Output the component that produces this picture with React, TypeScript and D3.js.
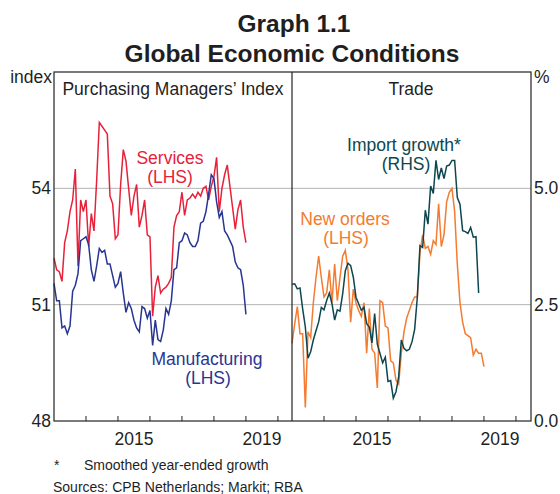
import * as d3 from "d3";

// monthly, Jan 2013 onwards
const services = [
  52.2, 51.9, 51.85, 51.6, 52.6, 52.9, 53.4, 53.7, 54.5, 52.0, 53.7, 53.4,
  53.7, 52.5, 53.35, 52.9, 54.2, 55.7, 55.6, 55.5, 55.4, 53.8, 53.6, 52.7,
  52.8, 54.1, 55.0, 54.7, 54.0, 53.3, 53.8, 54.1, 53.0, 53.3, 53.7, 52.8,
  52.75, 50.7, 51.45, 51.75, 51.3, 51.4, 51.45, 51.55, 51.7, 53.0, 53.3, 53.4,
  53.9, 53.3, 53.7, 53.75, 53.85, 53.75, 53.9, 53.8, 54.0, 54.05, 53.7, 54.05,
  54.3, 54.8, 53.4, 54.0, 54.35, 54.6, 54.05, 53.5, 52.95, 53.45, 53.7, 53.0,
  52.6,
];
const manufacturing = [
  51.55, 51.1, 51.1, 50.4, 50.45, 50.25, 50.45, 51.35, 51.5, 51.8, 52.65, 52.7,
  52.75, 52.55, 51.9, 51.6, 52.0, 52.45, 52.35, 52.4, 52.05, 52.05, 51.75, 51.45,
  51.55, 51.85, 51.3, 50.8, 51.05, 50.9, 50.6, 50.4, 50.3, 50.95, 50.9, 50.65,
  50.85, 49.95, 50.6, 50.1, 50.05, 50.35, 50.9, 50.75, 51.1, 51.9, 51.95, 52.6,
  52.65, 52.85, 52.8, 52.6, 52.5, 52.5, 52.65, 53.1, 53.15, 53.4, 53.85, 54.35,
  54.25, 53.65, 53.25, 53.4, 52.9, 52.8, 52.65, 52.5, 52.1, 51.95, 51.9, 51.5,
  50.75,
];
const newOrders = [
  50.0, 50.5, 50.95, 50.25, 50.25, 48.35, 50.3, 50.15, 51.05, 51.7, 52.25, 51.7,
  51.2, 51.3, 51.9, 51.05, 52.05, 51.1, 51.7, 52.25, 52.4, 51.9, 50.55, 51.4,
  51.05, 50.85, 50.7, 51.05, 49.75, 50.9, 49.85, 49.75, 48.85, 51.1, 51.05, 50.45,
  50.4, 49.55, 49.5, 49.05, 48.95, 49.75, 50.3, 50.65, 50.85, 51.05, 51.2, 51.2,
  52.35, 52.8, 52.45, 52.5, 52.3, 52.65, 52.55, 53.6, 52.5, 52.8, 53.65, 53.9,
  54.0, 53.4, 52.05, 51.05, 50.55, 50.25, 50.2, 50.15, 49.7, 49.85, 49.75, 49.75,
  49.4,
];
const importGrowth = [
  2.94, 2.95, 2.84, 2.86, 2.41, 2.02, 1.35, 1.49, 1.74, 1.94, 2.13, 2.44,
  2.39, 2.59, 2.75, 2.52, 2.17, 2.39, 2.36, 2.73, 3.23, 3.39, 3.34, 3.09,
  2.66, 2.52, 2.38, 2.44, 2.09, 2.02, 1.68, 2.31, 1.65, 1.45, 1.25, 1.37,
  0.85, 0.87, 0.49, 0.63, 0.95, 1.74, 1.56, 1.51, 1.54, 1.7, 1.97, 2.66,
  3.77, 3.73, 4.53, 4.23, 5.05, 4.89, 5.6, 5.19, 5.44, 5.21, 5.48, 5.5,
  5.6, 5.6, 4.8, 4.66, 4.09, 4.07, 4.03, 4.16, 3.95, 3.96, 2.75,
];

const leftTicks = [48, 51, 54];
const rightTicks = [0, 2.5, 5];
const yearTicks = [2014, 2015, 2016, 2017, 2018, 2019, 2020];
const yearLabels = [2015, 2019];

const C = {
  services: "#e8213a",
  manufacturing: "#283593",
  newOrders: "#f47b2f",
  imports: "#0d4650",
  grid: "#b4b4b4",
  axis: "#222",
  text: "#1f1f1f",
};

const top = 72, bottom = 421, left = 54, mid = 292, right = 531;
const font = "Liberation Sans, Arial, sans-serif";
const fs = 17.5;

export default function App() {
  const yL = d3.scaleLinear([48, 57], [bottom, top]);
  const yR = d3.scaleLinear([0, 7.5], [bottom, top]);
  const xL = d3.scaleLinear([2013, 2020.44], [left, mid]);
  const xR = d3.scaleLinear([2013, 2020.47], [mid, right]);
  const t = (i: number) => 2013 + i / 12;

  const line = (x: d3.ScaleLinear<number, number>, y: d3.ScaleLinear<number, number>) =>
    d3.line<number>().x((_, i) => x(t(i))).y((d) => y(d));

  return (
    <div style={{ position: "fixed", left: 0, top: 0 }}>
      <svg width={560} height={494} style={{ display: "block", fontFamily: font }}>
        <rect width={560} height={494} fill="#fff" />
        <text x={294} y={32} textAnchor="middle" fontSize={24.5} fontWeight="bold" fill={C.text}>Graph 1.1</text>
        <text x={292} y={62} textAnchor="middle" fontSize={24.5} fontWeight="bold" fill={C.text}>Global Economic Conditions</text>

        {leftTicks.slice(1).map((v) => (
          <line key={v} x1={left} x2={right} y1={yL(v)} y2={yL(v)} stroke={C.grid} strokeWidth={1} />
        ))}

        <path d={line(xL, yL)(services)!} fill="none" stroke={C.services} strokeWidth={1.5} />
        <path d={line(xL, yL)(manufacturing)!} fill="none" stroke={C.manufacturing} strokeWidth={1.5} />
        <path d={line(xR, yL)(newOrders)!} fill="none" stroke={C.newOrders} strokeWidth={1.5} />
        <path d={line(xR, yR)(importGrowth)!} fill="none" stroke={C.imports} strokeWidth={1.5} />

        <rect x={left} y={top} width={right - left} height={bottom - top} fill="none" stroke={C.axis} strokeWidth={1.2} />
        <line x1={mid} x2={mid} y1={top} y2={bottom} stroke={C.axis} strokeWidth={1.2} />

        {yearTicks.map((yr) => (
          <g key={yr}>
            <line x1={xL(yr)} x2={xL(yr)} y1={bottom} y2={bottom - 5} stroke={C.axis} />
            <line x1={xR(yr)} x2={xR(yr)} y1={bottom} y2={bottom - 5} stroke={C.axis} />
          </g>
        ))}
        {yearLabels.map((yr) => (
          <g key={yr} fontSize={fs} fill={C.text} textAnchor="middle">
            <text x={xL(yr + 0.5)} y={445}>{yr}</text>
            <text x={xR(yr + 0.5)} y={445}>{yr}</text>
          </g>
        ))}

        {leftTicks.map((v) => (
          <text key={v} x={51} y={yL(v) + 6} textAnchor="end" fontSize={fs} fill={C.text}>{v}</text>
        ))}
        {rightTicks.map((v) => (
          <text key={v} x={534} y={yR(v) + 6} fontSize={fs} fill={C.text}>{v.toFixed(1)}</text>
        ))}
        <text x={52} y={83} textAnchor="end" fontSize={fs} fill={C.text}>index</text>
        <text x={534} y={83} fontSize={fs} fill={C.text}>%</text>

        <text x={173} y={95} textAnchor="middle" fontSize={fs} fill={C.text}>Purchasing Managers’ Index</text>
        <text x={411} y={95} textAnchor="middle" fontSize={fs} fill={C.text}>Trade</text>

        <g fontSize={fs} textAnchor="middle">
          <text x={170} y={164} fill={C.services}>Services</text>
          <text x={170} y={183} fill={C.services}>(LHS)</text>
          <text x={207} y={365} fill={C.manufacturing}>Manufacturing</text>
          <text x={208} y={384} fill={C.manufacturing}>(LHS)</text>
          <text x={404} y={151} fill={C.imports}>Import growth*</text>
          <text x={406} y={170} fill={C.imports}>(RHS)</text>
          <text x={345} y={225} fill={C.newOrders}>New orders</text>
          <text x={346} y={244} fill={C.newOrders}>(LHS)</text>
        </g>

        <text x={54} y={470} fontSize={14} fill={C.text}>*</text>
        <text x={84} y={470} fontSize={14} fill={C.text}>Smoothed year-ended growth</text>
        <text x={53} y={492} fontSize={14} fill={C.text}>Sources: CPB Netherlands; Markit; RBA</text>
      </svg>
    </div>
  );
}
